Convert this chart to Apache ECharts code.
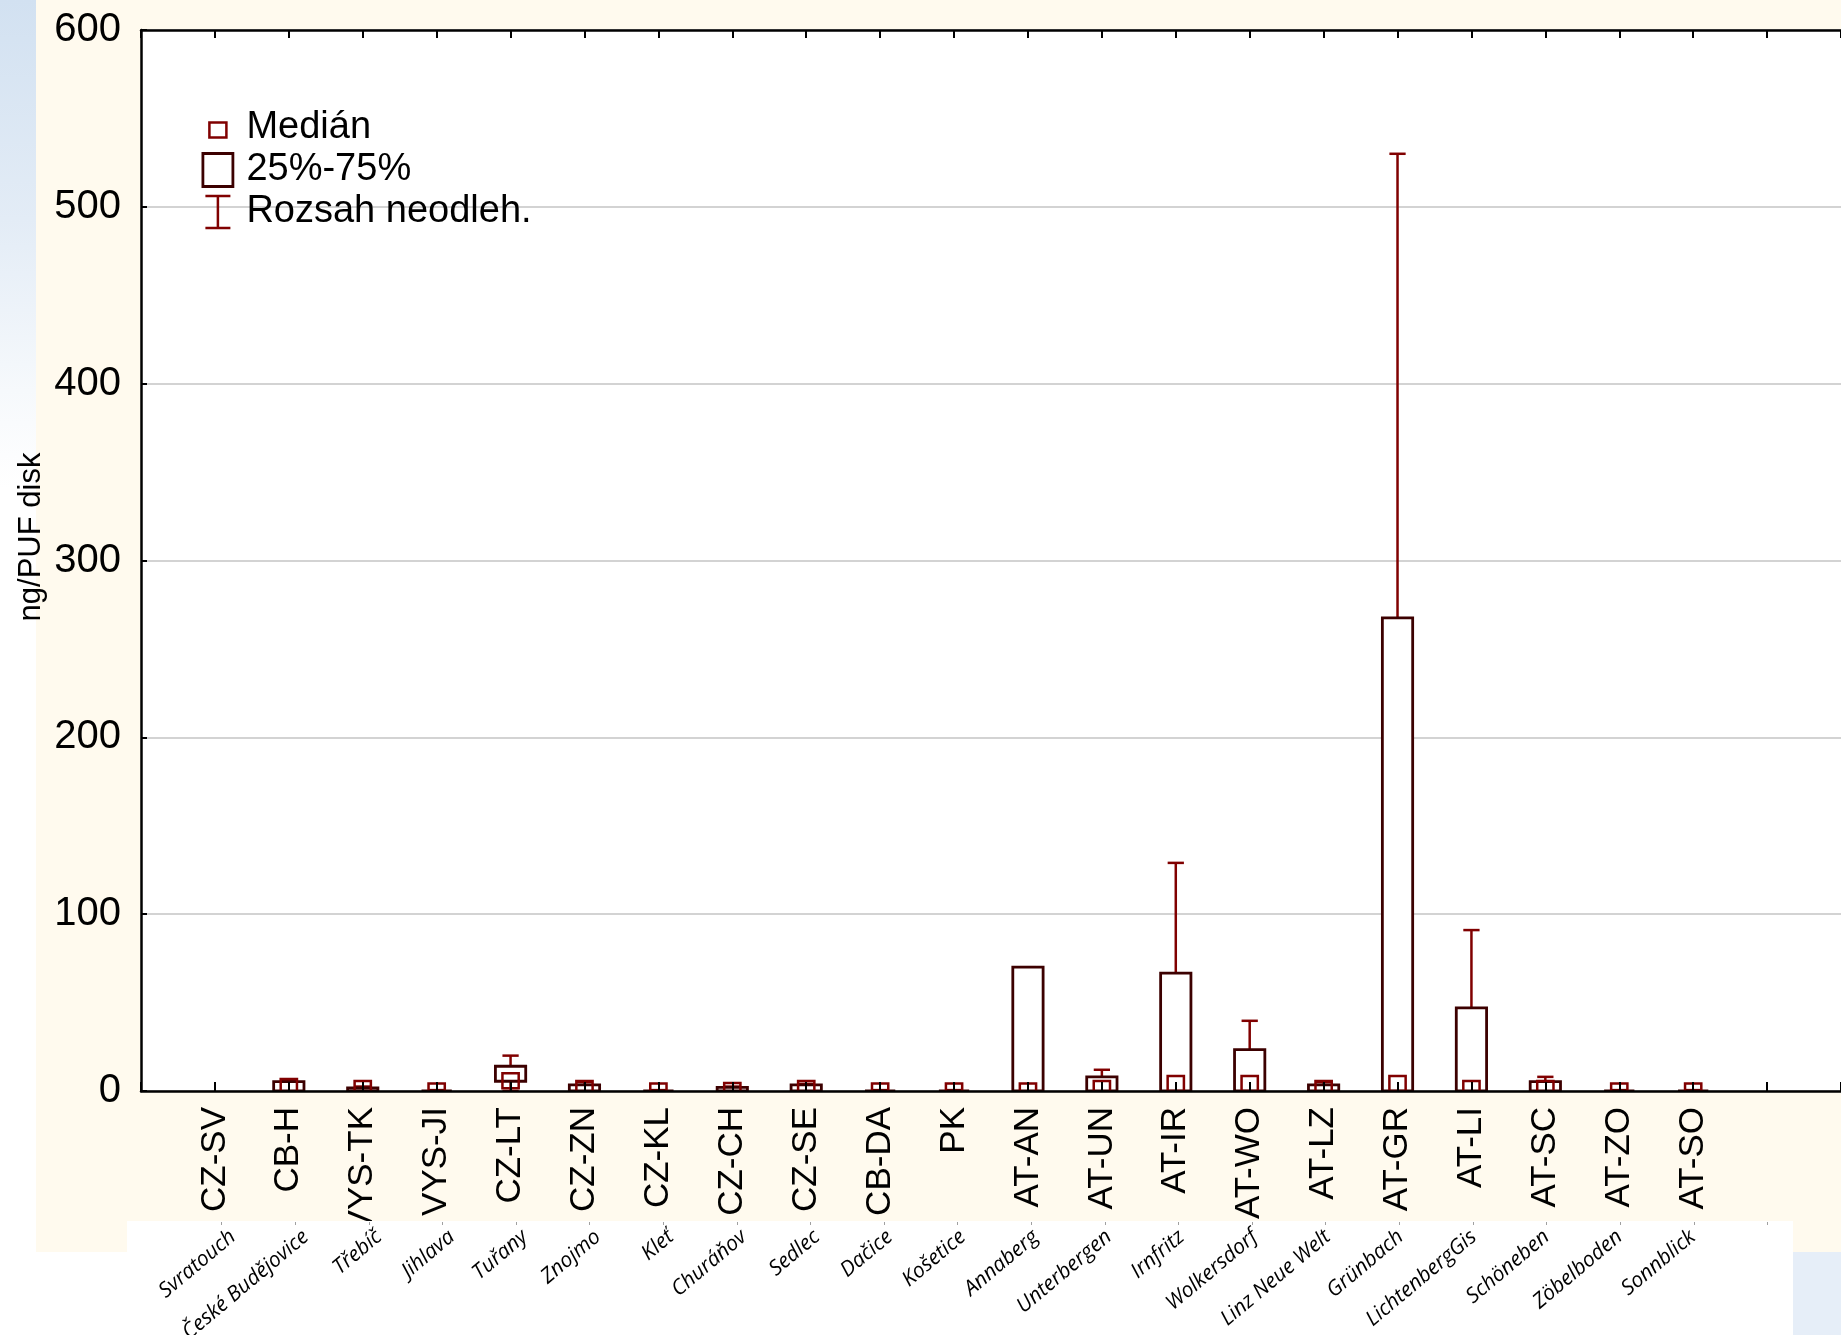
<!DOCTYPE html>
<html><head><meta charset="utf-8">
<script src="https://cdn.jsdelivr.net/npm/echarts@6/dist/echarts.min.js"></script>
<style>html,body{margin:0;padding:0;background:#fff;}#c{width:1841px;height:1335px;}</style>
</head><body><div id="c"></div>
<script>
// ---- data ----
const categories = ['CZ-SV','CB-H','VYS-TK','VYS-JI','CZ-LT','CZ-ZN','CZ-KL','CZ-CH','CZ-SE','CB-DA','PK',
  'AT-AN','AT-UN','AT-IR','AT-WO','AT-LZ','AT-GR','AT-LI','AT-SC','AT-ZO','AT-SO'];
const stationNames = ['Svratouch','České Budějovice','Třebíč','Jihlava','Tuřany','Znojmo','Kleť','Churáňov','Sedlec','Dačice','Košetice',
  'Annaberg','Unterbergen','Irnfritz','Wolkersdorf','Linz Neue Welt','Grünbach','LichtenbergGis','Schöneben','Zöbelboden','Sonnblick'];
const minV    = [null, 0,   0,   0,   0,   0,   0,   0,   0,   0,   0,   0,  0,   0,    0,    0,   0,     0,   0,   0,   0];
const q1V     = [null, 0,   0,   0,   5.5, 0,   0,   0,   0,   0,   0,   0,  0,   0,    0,    0,   0,     0,   0,   0,   0];
const medianV = [null, 2.5, 1.4, 0,   5.8, 1.4, 0,   0.3, 1.4, 0,   0,   0,  1.4, 4.2,  4.2,  1.4, 4.2,   1.4, 1.4, 0,   0];
const q3V     = [null, 5.3, 1.8, 0,   14,  3.5, 0,   2,   3.5, 0,   0,   70, 8,   66.7, 23.4, 3.5, 267.5, 47,  5.3, 0,   0];
const maxV    = [null, 6.3, 2.5, 0.5, 20,  5,   0.5, 2.5, 4,   0.5, 0.5, 70, 12,  129,  39.7, 5,   530,   91,  8,   0.5, 0.5];
const yTickLabels = ['0','100','200','300','400','500','600'];
const legendNames = ['Medián','25%-75%','Rozsah neodleh.'];
const yTitle = 'ng/PUF disk';

const boxData = categories.map((c, i) => [i + 1, minV[i], q1V[i], medianV[i], q3V[i], maxV[i]]);
const tickPositions = categories.map((c, i) => i + 1).concat([categories.length + 1]);

const BOX_COLOR = '#3C0000';
const WHISK_COLOR = '#800000';

function renderBox(params, api) {
  const x = api.value(0), q1 = api.value(2), q3 = api.value(4);
  if (isNaN(q1) || isNaN(q3)) return null;
  const band = api.size([1, 0])[0];
  const w = band * 0.41;
  const t = api.coord([x, q3]), b = api.coord([x, q1]);
  return {type: 'rect', shape: {x: t[0] - w / 2, y: t[1], width: w, height: b[1] - t[1]},
    style: {fill: '#fff', stroke: BOX_COLOR, lineWidth: 2.8}};
}
function renderWhisker(params, api) {
  const x = api.value(0), mn = api.value(1), q1 = api.value(2), q3 = api.value(4), mx = api.value(5);
  if (isNaN(mx)) return null;
  const band = api.size([1, 0])[0];
  const c = band * 0.22;
  const pMax = api.coord([x, mx]), pQ3 = api.coord([x, q3]), pQ1 = api.coord([x, q1]), pMin = api.coord([x, mn]);
  const st = {stroke: WHISK_COLOR, lineWidth: 2.5, fill: null};
  return {type: 'group', children: [
    {type: 'line', shape: {x1: pMax[0], y1: pQ3[1], x2: pMax[0], y2: pMax[1]}, style: st},
    {type: 'line', shape: {x1: pMax[0] - c / 2, y1: pMax[1], x2: pMax[0] + c / 2, y2: pMax[1]}, style: st},
    {type: 'line', shape: {x1: pMin[0], y1: pQ1[1], x2: pMin[0], y2: pMin[1]}, style: st},
    {type: 'line', shape: {x1: pMin[0] - c / 2, y1: pMin[1], x2: pMin[0] + c / 2, y2: pMin[1]}, style: st}
  ]};
}
function renderMedian(params, api) {
  const x = api.value(0), md = api.value(3);
  if (isNaN(md)) return null;
  const band = api.size([1, 0])[0];
  const w = band * 0.22, h = 15;
  const p = api.coord([x, md]);
  return {type: 'rect', shape: {x: p[0] - w / 2, y: p[1] - h / 2, width: w, height: h},
    style: {fill: null, stroke: WHISK_COLOR, lineWidth: 2.5}};
}

const chart = echarts.init(document.getElementById('c'), null, {renderer: 'canvas'});
const FONT = 'Liberation Sans, Arial, sans-serif';
const option = {
  animation: false,
  backgroundColor: '#ffffff',
  graphic: {elements: [
    {type: 'rect', z: -10, shape: {x: 0, y: 0, width: 36, height: 1221},
      style: {fill: new echarts.graphic.LinearGradient(0, 0, 0, 1, [
        {offset: 0, color: '#D2E1F1'}, {offset: 0.18, color: '#E3ECF6'}, {offset: 0.32, color: '#F6F9FC'}, {offset: 0.4, color: '#FFFFFF'}, {offset: 1, color: '#FFFFFF'}])}},
    {type: 'rect', z: -10, shape: {x: 36, y: 0, width: 1805, height: 1252}, style: {fill: '#FFFAEE'}},
    {type: 'rect', z: -10, shape: {x: 1793, y: 1252, width: 48, height: 83}, style: {fill: '#E6EEF8'}},
    {type: 'rect', z: 50, shape: {x: 127, y: 1221, width: 1666, height: 114}, style: {fill: '#FFFFFF'}},
    {type: 'text', z: 60, x: 31, y: 537, rotation: Math.PI / 2,
      style: {text: yTitle, font: '31px "Liberation Sans", Arial, sans-serif', fill: '#000', align: 'center', verticalAlign: 'middle'}}
  ]},
  legend: {
    orient: 'vertical', left: 195, top: 104, itemWidth: 40, itemHeight: 34, itemGap: 4, selectedMode: false,
    textStyle: {fontSize: 38, fontFamily: FONT, color: '#000'},
    data: [
      {name: legendNames[0], icon: 'path://M0,0M40,34M8,11.5L25,11.5L25,26.5L8,26.5Z',
        itemStyle: {color: 'transparent', borderColor: WHISK_COLOR, borderWidth: 2.5}},
      {name: legendNames[1], icon: 'path://M0,0M40,34M1.5,0.5L31.5,0.5L31.5,33.5L1.5,33.5Z',
        itemStyle: {color: 'transparent', borderColor: BOX_COLOR, borderWidth: 2.8}},
      {name: legendNames[2], icon: 'path://M0,0M40,34M4,1L29,1M16.5,1L16.5,33M4,33L29,33',
        itemStyle: {color: 'transparent', borderColor: WHISK_COLOR, borderWidth: 2.5}}
    ]
  },
  grid: [
    {left: 141, right: -12, top: 30, bottom: 244, show: true, backgroundColor: '#ffffff', borderWidth: 0},
    {left: 148, right: -1, top: 1221, height: 1},
    {left: 160, right: -13, top: 1221, height: 1}
  ],
  xAxis: [
    {gridIndex: 0, type: 'value', position: 'bottom', min: 0, max: 23, interval: 1, z: 5,
      axisLine: {show: true, onZero: false, lineStyle: {color: '#000', width: 2.5}},
      axisTick: {show: true, inside: true, length: 9, lineStyle: {color: '#000', width: 2}},
      axisLabel: {rotate: 90, margin: 16, fontSize: 35, fontFamily: FONT, color: '#000',
        formatter: v => categories[v - 1] || ''},
      splitLine: {show: false}},
    {gridIndex: 0, type: 'value', position: 'top', min: 0, max: 23, interval: 1, z: 5,
      axisLine: {show: true, onZero: false, lineStyle: {color: '#000', width: 2.5}},
      axisTick: {show: true, inside: true, length: 8, lineStyle: {color: '#000', width: 2}},
      axisLabel: {show: false}, splitLine: {show: false}},
    {gridIndex: 1, type: 'value', position: 'top', min: 0, max: 23, interval: 1, z: 60,
      axisLine: {show: false},
      axisTick: {show: true, inside: true, length: 3, customValues: tickPositions, lineStyle: {color: '#A0A0A0', width: 1}},
      axisLabel: {show: false}, splitLine: {show: false}},
    {gridIndex: 2, type: 'value', position: 'bottom', min: 0, max: 23, interval: 1, z: 60,
      axisLine: {show: false}, axisTick: {show: false}, splitLine: {show: false},
      axisLabel: {rotate: 40, margin: 13, fontSize: 21, fontFamily: 'Open Sans, Noto Sans, sans-serif', fontStyle: 'italic', color: '#000',
        formatter: v => stationNames[v - 1] || ''}}
  ],
  yAxis: [
    {gridIndex: 0, type: 'value', min: 0, max: 600, interval: 100,
      axisLine: {show: true, lineStyle: {color: '#000', width: 2.5}},
      axisTick: {show: true, inside: true, length: 6, lineStyle: {color: '#000', width: 2}},
      axisLabel: {margin: 20, fontSize: 40, fontFamily: FONT, color: '#000', formatter: v => yTickLabels[Math.round(v / 100)]},
      splitLine: {show: true, lineStyle: {color: '#D3D3D3', width: 2}}},
    {gridIndex: 1, type: 'value', show: false, min: 0, max: 1},
    {gridIndex: 2, type: 'value', show: false, min: 0, max: 1}
  ],
  series: [
    {type: 'custom', name: legendNames[2], xAxisIndex: 0, yAxisIndex: 0, data: boxData, renderItem: renderWhisker,
      encode: {x: 0, y: [1, 2, 3, 4, 5]}, clip: true, z: 2, silent: true},
    {type: 'custom', name: legendNames[1], xAxisIndex: 0, yAxisIndex: 0, data: boxData, renderItem: renderBox,
      encode: {x: 0, y: [1, 2, 3, 4, 5]}, clip: true, z: 3, silent: true},
    {type: 'custom', name: legendNames[0], xAxisIndex: 0, yAxisIndex: 0, data: boxData, renderItem: renderMedian,
      encode: {x: 0, y: [1, 2, 3, 4, 5]}, clip: true, z: 4, silent: true}
  ]
};
chart.setOption(option);
</script>
</body></html>
